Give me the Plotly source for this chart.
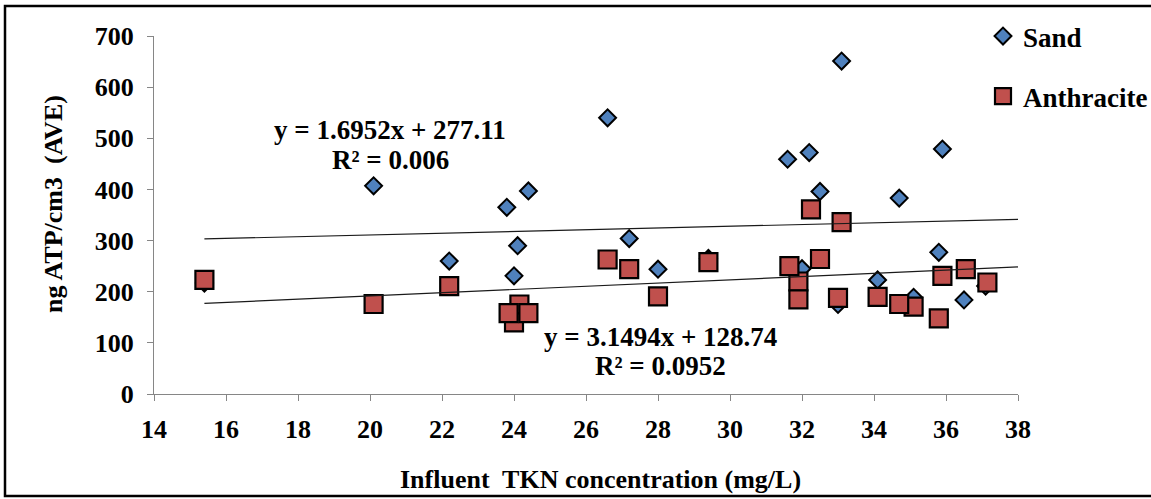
import plotly.graph_objects as go

# Influent TKN concentration (mg/L) and biomass (ng ATP/cm3) per filter medium
sand_x = [15.4, 20.1, 22.2, 23.8, 24.0, 24.1, 24.4, 26.6, 27.2, 28.0, 29.4, 31.6,
          32.0, 32.2, 32.5, 33.0, 33.1, 34.1, 34.7, 35.1, 35.8, 35.9, 36.5, 37.1]
sand_y = [217, 407, 260, 365, 231, 290, 397, 540, 304, 244, 265, 459,
          245, 472, 396, 175, 651, 223, 383, 189, 277, 479, 184, 211]

anth_x = [15.4, 20.1, 22.2, 24.15, 24.0, 23.85, 24.4, 26.6, 27.2, 28.0, 29.4, 31.9,
          31.9, 31.65, 32.25, 32.5, 33.0, 33.1, 34.1, 35.1, 34.7, 35.8, 35.9, 36.55, 37.15]
anth_y = [223, 176, 211, 175, 140, 158, 158, 263, 244, 191, 258, 220,
          185, 250, 361, 264, 188, 336, 190, 171, 176, 148, 231, 244, 218]

# Linear trend coefficients (slope, intercept) and R² as reported
sand_fit = (1.6952, 277.11, "0.006")
anth_fit = (3.1494, 128.74, "0.0952")
trend_x = [15.4, 38.0]

x_ticks = list(range(14, 39, 2))
y_ticks = list(range(0, 701, 100))

FONT = "Liberation Serif"

# plot area in pixels: left 154, right 1018, top 36, bottom 394
L, R, T, B, W = 154, 1018, 36, 394, 1151


def dx(px):
    return (px - L) / (R - L)


def dy(py):
    return (B - py) / (B - T)


fig = go.Figure()

fig.add_trace(go.Scatter(
    x=sand_x, y=sand_y, mode="markers", name="Sand", legendgroup="sand",
    marker=dict(symbol="diamond", size=13, color="#4F81BD",
                line=dict(color="black", width=2)),
))
fig.add_trace(go.Scatter(
    x=anth_x, y=anth_y, mode="markers", name="Anthracite", legendgroup="anth",
    marker=dict(symbol="square", size=18, color="#C0504D",
                line=dict(color="black", width=2.2)),
))

for slope, intercept, _ in (sand_fit, anth_fit):
    fig.add_trace(go.Scatter(
        x=trend_x, y=[slope * v + intercept for v in trend_x], mode="lines",
        line=dict(color="#1a1a1a", width=1.2), showlegend=False, hoverinfo="skip",
    ))

bold = dict(family=FONT, color="black", weight="bold")

annotations = []
for fit, cx, y1, y2 in ((sand_fit, 390, 130, 160), (anth_fit, 660, 337, 366)):
    for text, py in ((f"y = {fit[0]:.4f}x + {fit[1]:.2f}", y1), (f"R² = {fit[2]}", y2)):
        annotations.append(dict(
            text=text, x=dx(cx), y=dy(py), xref="x domain", yref="y domain",
            xanchor="center", yanchor="middle", showarrow=False,
            font=dict(size=27, **bold),
        ))

annotations.append(dict(
    text="Influent\u00a0 TKN concentration (mg/L)", xref="x domain", yref="y domain",
    x=dx(600), y=dy(480), xanchor="center", yanchor="middle", showarrow=False,
    font=dict(size=26, **bold),
))
annotations.append(dict(
    text="ng ATP/cm3\u00a0 (AVE)", xref="x domain", yref="y domain", textangle=-90,
    x=dx(54), y=dy(204), xanchor="center", yanchor="middle", showarrow=False,
    font=dict(size=26, **bold),
))

fig.update_layout(
    width=W, height=499, autosize=False,
    margin=dict(l=L, r=0, t=T, b=499 - B, autoexpand=False),
    paper_bgcolor="white", plot_bgcolor="white",
    font=dict(size=26, **bold),
    annotations=annotations,
    showlegend=True,
    legend=dict(x=(983 - L) / (W - L), y=dy(12), xanchor="left", yanchor="top",
                font=dict(size=27, **bold), tracegroupgap=22,
                itemsizing="trace", bgcolor="rgba(0,0,0,0)"),
    shapes=[dict(type="rect", xref="x domain", yref="y domain",
                 x0=dx(5), x1=dx(1160), y0=dy(496), y1=dy(6),
                 line=dict(color="black", width=2.5))],
)

fig.update_xaxes(
    domain=[0, (R - L) / (W - L)],
    range=[14, 38], tickvals=x_ticks, ticks="outside", ticklen=6, tickwidth=1,
    tickcolor="#868686", showline=True, linecolor="#868686", linewidth=1,
    showgrid=False, zeroline=False, ticklabelstandoff=6,
)
fig.update_yaxes(
    range=[0, 700], tickvals=y_ticks, ticks="outside", ticklen=6, tickwidth=1,
    tickcolor="#868686", showline=True, linecolor="#868686", linewidth=1,
    showgrid=False, zeroline=False, ticklabelstandoff=8,
)

fig.write_html("out.html")
